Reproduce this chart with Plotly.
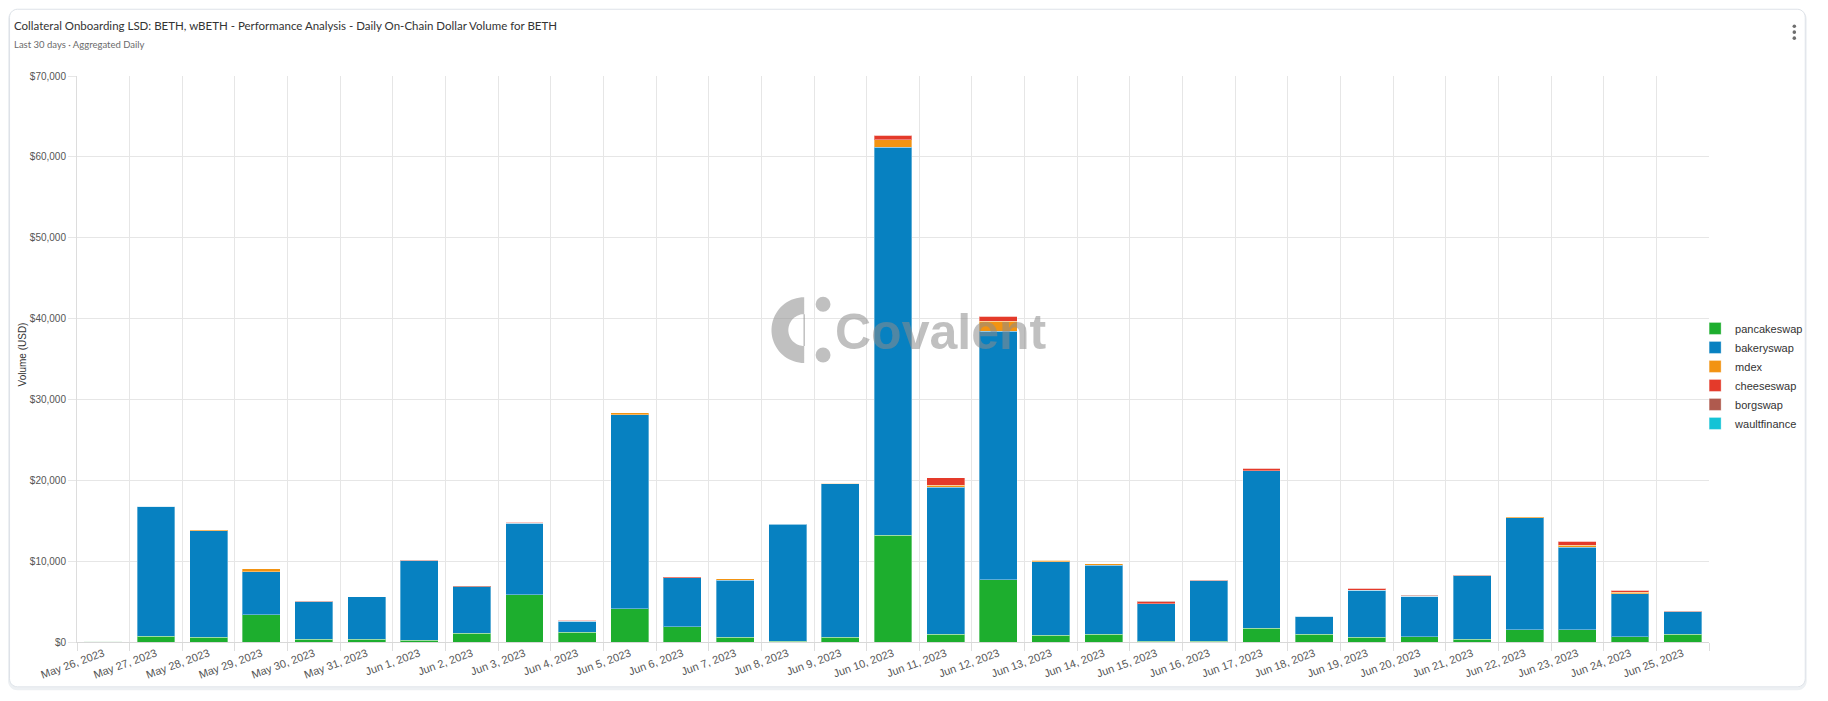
import numpy as np
import plotly.graph_objects as go

dates = [
    "May 26, 2023", "May 27, 2023", "May 28, 2023", "May 29, 2023", "May 30, 2023",
    "May 31, 2023", "Jun 1, 2023", "Jun 2, 2023", "Jun 3, 2023", "Jun 4, 2023",
    "Jun 5, 2023", "Jun 6, 2023", "Jun 7, 2023", "Jun 8, 2023", "Jun 9, 2023",
    "Jun 10, 2023", "Jun 11, 2023", "Jun 12, 2023", "Jun 13, 2023", "Jun 14, 2023",
    "Jun 15, 2023", "Jun 16, 2023", "Jun 17, 2023", "Jun 18, 2023", "Jun 19, 2023",
    "Jun 20, 2023", "Jun 21, 2023", "Jun 22, 2023", "Jun 23, 2023", "Jun 24, 2023",
    "Jun 25, 2023",
]

pancakeswap = [90, 700, 570, 3400, 330, 370, 200, 1060, 5850, 1190, 4130, 1880, 570, 120, 570,
               13220, 940, 7700, 820, 940, 120, 120, 1720, 940, 570, 650, 330, 1510, 1510, 650, 940]
bakeryswap = [0, 16120, 13220, 5280, 4660, 5200, 9870, 5780, 8850, 1350, 23960, 6060, 7080, 14450, 19000,
              47980, 18180, 30730, 9130, 8560, 4630, 7450, 19480, 2250, 5820, 5000, 7860, 13840, 10200, 5290, 2780]
mdex = [0, 0, 100, 410, 0, 0, 0, 0, 0, 0, 280, 0, 150, 60, 60,
        900, 280, 1240, 160, 160, 0, 0, 0, 0, 0, 0, 0, 120, 240, 200, 0]
cheeseswap = [0, 0, 0, 0, 0, 0, 0, 0, 80, 160, 0, 160, 0, 0, 0,
              600, 900, 620, 0, 0, 200, 0, 290, 0, 240, 0, 0, 0, 530, 290, 0]
borgswap = [0, 0, 0, 0, 40, 0, 40, 120, 0, 0, 0, 0, 0, 0, 0,
            0, 0, 0, 80, 40, 60, 60, 0, 60, 0, 120, 80, 0, 0, 0, 60]
waultfinance = [0] * 31

series = [
    ("pancakeswap", pancakeswap, "#1DAE2E"),
    ("bakeryswap", bakeryswap, "#0781C1"),
    ("mdex", mdex, "#F29312"),
    ("cheeseswap", cheeseswap, "#E43A2A"),
    ("borgswap", borgswap, "#AF5A4E"),
    ("waultfinance", waultfinance, "#14C3D6"),
]

# page body has an 8px margin, so the figure sits at (8, 8) in the window
OFF = 8
W, H = 1828 - 2 * OFF, 701 - 2 * OFF
# plot area in window pixels
L, R, T, B = 77, 1722, 76, 644


def px(p):
    return (p - L) / (R - L)


def py(q):
    return (B - q) / (B - T)


def poly_path(points):
    return "M" + "L".join(f"{px(x):.5f},{py(y):.5f}" for x, y in points) + "Z"


def round_rect(x0, y0, x1, y1, r):
    pts = []
    for cx, cy, a0 in [(x1 - r, y0 + r, -90), (x1 - r, y1 - r, 0), (x0 + r, y1 - r, 90), (x0 + r, y0 + r, 180)]:
        for a in np.linspace(a0, a0 + 90, 8):
            pts.append((cx + r * np.cos(np.radians(a)), cy + r * np.sin(np.radians(a))))
    return poly_path(pts)


fig = go.Figure()
for name, vals, color in series:
    fig.add_trace(go.Bar(
        x=dates, y=vals, name=name,
        marker=dict(color=color, line=dict(color="rgba(255,255,255,0.35)", width=1)),
    ))

shapes = []
# card outline
shapes.append(dict(type="path", xref="paper", yref="paper", path=round_rect(9, 11, 1819, 691, 8),
                   line=dict(color="#edf0f3", width=3), layer="below"))
shapes.append(dict(type="path", xref="paper", yref="paper", path=round_rect(9, 9, 1819, 689, 8),
                   line=dict(color="#dde2e8", width=1), fillcolor="white", layer="below"))

# menu dots
for yy in (26, 32, 38):
    shapes.append(dict(type="circle", xref="paper", yref="paper",
                       x0=px(1806.2), x1=px(1809.8), y0=py(yy + 1.8), y1=py(yy - 1.8),
                       fillcolor="#6e6e6e", line=dict(width=0)))

# watermark logo
wm = "rgba(140,140,140,0.55)"
cx, cy, ro, ri = 810, 331, 33, 16
ang = np.radians(np.linspace(90, 270, 40))
outer = [(cx + ro * np.cos(a), cy - ro * np.sin(a)) for a in ang]
inner = [(cx + ri * np.cos(a), cy - ri * np.sin(a)) for a in ang[::-1]]
shapes.append(dict(type="path", xref="paper", yref="paper", path=poly_path(outer + inner),
                   fillcolor=wm, line=dict(width=0), layer="above"))
shapes.append(dict(type="line", xref="paper", yref="paper", x0=px(cx), x1=px(cx),
                   y0=py(cy - ri), y1=py(cy + ri), line=dict(color=wm, width=1.5), layer="above"))
for dy in (305, 356):
    shapes.append(dict(type="circle", xref="paper", yref="paper",
                       x0=px(cx + 11.5), x1=px(cx + 26.5), y0=py(dy + 7.5), y1=py(dy - 7.5),
                       fillcolor=wm, line=dict(width=0), layer="above"))

annotations = [
    dict(text="Collateral Onboarding LSD: BETH, wBETH - Performance Analysis - Daily On-Chain Dollar Volume for BETH",
         xref="paper", yref="paper", x=px(11), y=py(25), xanchor="left", yanchor="middle",
         showarrow=False, font=dict(family="Lato, sans-serif", size=11.5, color="#333333")),
    dict(text="Last 30 days · Aggregated Daily",
         xref="paper", yref="paper", x=px(11), y=py(44), xanchor="left", yanchor="middle",
         showarrow=False, font=dict(family="Lato, sans-serif", size=9.5, color="#6b6b6b")),
    dict(text="Volume (USD)", textangle=-90,
         xref="paper", yref="paper", x=px(22), y=py(355), xanchor="center", yanchor="middle",
         showarrow=False, font=dict(family="Liberation Sans, Arial, sans-serif", size=10, color="#333333")),
    dict(text="<b>Covalent</b>",
         xref="paper", yref="paper", x=px(948), y=py(333), xanchor="center", yanchor="middle",
         showarrow=False, font=dict(family="Liberation Sans, Arial, sans-serif", size=50, color=wm)),
]

fig.update_layout(
    width=W, height=H,
    barmode="stack", bargap=0.28,
    margin=dict(l=L - OFF, r=(OFF + W) - R, t=T - OFF, b=(OFF + H) - B, pad=0),
    paper_bgcolor="white", plot_bgcolor="white",
    font=dict(family="Liberation Sans, Arial, sans-serif", color="#555555"),
    showlegend=True,
    legend=dict(
        x=px(1708), y=py(377), xanchor="left", yanchor="middle",
        font=dict(size=11, color="#333333"), traceorder="normal",
        bgcolor="rgba(0,0,0,0)", itemclick=False,
    ),
    xaxis=dict(
        type="category", tickson="boundaries", tickangle=-20,
        showgrid=True, gridcolor="#e6e6e6", gridwidth=1,
        ticks="outside", ticklen=8, tickcolor="#dddddd",
        showline=True, linecolor="#d8d8d8", mirror=False,
        tickfont=dict(size=11, color="#555555"),
    ),
    yaxis=dict(
        range=[0, 70000], dtick=10000, tickprefix="$", tickformat=",",
        showgrid=True, gridcolor="#e6e6e6", zeroline=False,
        ticks="outside", ticklen=8, tickcolor="#e6e6e6",
        showline=True, linecolor="#dddddd",
        tickfont=dict(size=10, color="#555555"),
    ),
    shapes=shapes,
    annotations=annotations,
)

fig.write_html("out.html")
